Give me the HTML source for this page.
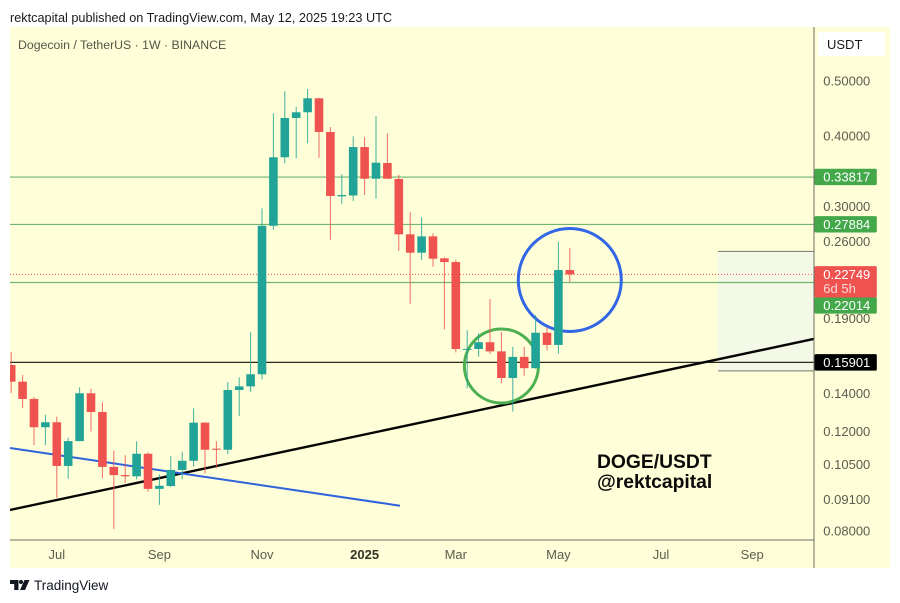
<!DOCTYPE html>
<html lang="en">
<head>
<meta charset="utf-8">
<title>DOGE/USDT chart</title>
<style>
html,body{margin:0;padding:0;background:#fff;width:900px;height:603px;overflow:hidden}
svg{display:block;font-family:"Liberation Sans",sans-serif}
</style>
</head>
<body>
<svg id="chart" xmlns="http://www.w3.org/2000/svg" width="900" height="603" viewBox="0 0 900 603">
  <defs><clipPath id="pane"><rect x="10" y="27" width="804" height="513"/></clipPath></defs>
  <text x="10" y="22" font-size="12.7" fill="#1a1a1a">rektcapital published on TradingView.com, May 12, 2025 19:23 UTC</text>
  <rect x="10" y="27" width="880" height="541" fill="#fefed8"/>
  <text x="18" y="49" font-size="12.3" fill="#555548">Dogecoin / TetherUS · 1W · BINANCE</text>
  <g id="under" clip-path="url(#pane)"></g>
  <g id="candles" clip-path="url(#pane)"></g>
  <text x="597" y="468" font-size="19.3" font-weight="700" fill="#0a0a0a">DOGE/USDT</text>
  <text x="597" y="488" font-size="19.3" font-weight="700" fill="#0a0a0a">@rektcapital</text>
  <line x1="10" y1="540" x2="814" y2="540" stroke="#6e6e60" stroke-width="1"/>
  <line x1="814" y1="27" x2="814" y2="568" stroke="#6e6e60" stroke-width="1"/>
  <g id="yaxis"></g>
  <g id="xaxis"></g>
  <g id="tags"></g>
  <rect x="818" y="32" width="67" height="24" rx="2" fill="#ffffff"/>
  <text x="827" y="49" font-size="13" fill="#1a1a1a">USDT</text>
  <g fill="#131722">
    <path d="M10 580H18.5V590H14.2V584H10Z"/>
    <circle cx="21" cy="582" r="2"/>
    <path d="M24.5 580H29.5L25 590H20Z"/>
  </g>
  <text x="34" y="590" font-size="13.5" fill="#131722">TradingView</text>
</svg>
<script>
// Weekly candles, values in USDT
const opens  = [.1573,.1470,.1370,.1221,.1246,.1043,.1154,.1402,.1299,.1039,.1005,.1000,.1096,.0950,.0961,.1026,.1065,.1244,.1119,.1114,.1421,.1442,.1515,.2773,.3665,.4301,.4402,.4660,.4063,.3126,.3137,.3821,.3359,.3581,.3355,.2678,.2485,.2656,.2429,.2392,.1677,.1679,.1726,.1663,.1492,.1626,.1553,.1794,.1707,.2316];
const highs  = [.1658,.1510,.1381,.1285,.1275,.1170,.1437,.1429,.1351,.1110,.1089,.1153,.1103,.1008,.1086,.1105,.1319,.1246,.1153,.1468,.1496,.1797,.2977,.4383,.4795,.4497,.4840,.4668,.4146,.3419,.3991,.3980,.4335,.4041,.3414,.2929,.2870,.2689,.2439,.2412,.1812,.1790,.2058,.1799,.1694,.1694,.1928,.1834,.2599,.2533];
const lows   = [.1404,.1321,.1135,.1135,.0916,.0990,.1153,.1200,.0992,.0807,.0974,.0988,.0939,.0890,.0958,.0988,.1040,.1012,.1033,.1094,.1278,.1411,.1484,.2729,.3576,.3650,.3879,.3659,.2620,.3034,.3067,.3143,.3096,.3359,.2503,.2019,.2412,.2347,.1819,.1656,.1431,.1628,.1645,.1460,.1301,.1506,.1550,.1670,.1647,.2203];
const closes = [.1470,.1370,.1221,.1246,.1043,.1154,.1402,.1299,.1039,.1005,.1000,.1096,.0950,.0962,.1026,.1065,.1244,.1114,.1114,.1421,.1442,.1515,.2773,.3665,.4301,.4402,.4660,.4063,.3130,.3143,.3821,.3359,.3585,.3359,.2678,.2485,.2656,.2425,.2392,.1679,.1680,.1726,.1663,.1492,.1626,.1553,.1794,.1707,.2316,.2275];
const priceTicks = [0.5,0.4,0.3,0.26,0.19,0.14,0.12,0.105,0.091,0.08];
const timeLabels = ["Jul","Sep","Nov","2025","Mar","May","Jul","Sep"];
const timeLabelBars = [4,13,22,31,39,48,57,65];
const supportLevels = [0.33817,0.27884,0.22014];
const blackLevel = 0.15901;
const lastPrice = 0.22749;
const countdown = "6d 5h";
const blackTrendBars = [-0.105,70.4];
const blackTrendPrices = [0.0872,0.1749];
const blueTrendBars = [-0.105,34.1];
const blueTrendPrices = [0.1122,0.0887];
const rangeBarStart = 62;
const rangePrices = [0.2498,0.1536];
const blueCircleCentre = [49,0.2224];
const greenCircleCentre = [43,0.1567];

const NS = "http://www.w3.org/2000/svg";
const UP = "#22a398", DOWN = "#ef5350";
const xBar = i => 11.2 + 11.4 * i;
const yPrice = p => 81 + 245.6 * Math.log(0.5 / p);
function mk(parent, tag, attrs, text) {
  const el = document.createElementNS(NS, tag);
  for (const k in attrs) el.setAttribute(k, attrs[k]);
  if (text !== undefined) el.textContent = text;
  parent.appendChild(el);
  return el;
}
const under = document.getElementById("under");
const candles = document.getElementById("candles");
const yaxis = document.getElementById("yaxis");
const xaxis = document.getElementById("xaxis");
const tags = document.getElementById("tags");

// horizontal levels
supportLevels.forEach(p => {
  const el = mk(under, "line", {x1:10, x2:814, y1:yPrice(p), y2:yPrice(p), stroke:"#6fb76f", "stroke-width":1.2});
  
  
});
const lastLine = mk(under, "line", {x1:10, x2:814, y1:yPrice(lastPrice), y2:yPrice(lastPrice), stroke:"#ef5350", "stroke-width":1, "stroke-dasharray":"1 2"});


const blackLine = mk(under, "line", {x1:10, x2:814, y1:yPrice(blackLevel), y2:yPrice(blackLevel), stroke:"#2a2a20", "stroke-width":1.3});



// projected range box
const rx = xBar(rangeBarStart), ry0 = yPrice(rangePrices[0]), ry1 = yPrice(rangePrices[1]);
const rangeBox = mk(under, "rect", {x:rx, y:ry0, width:814-rx, height:ry1-ry0, fill:"#f3f9e6"});


rangePrices.forEach(p => {
  const el = mk(under, "line", {x1:rx, x2:814, y1:yPrice(p), y2:yPrice(p), stroke:"#77776c", "stroke-width":1});
  
  
});
// the level lines run across the box
[supportLevels[2], lastPrice].forEach((p, i) => {
  const el = mk(under, "line", {x1:rx, x2:814, y1:yPrice(p), y2:yPrice(p), stroke: i ? "#ef5350" : "#6fb76f", "stroke-width": i ? 1 : 1.2, "stroke-dasharray": i ? "1 2" : "none"});
  
  
});
const blackOverBox = mk(under, "line", {x1:rx, x2:814, y1:yPrice(blackLevel), y2:yPrice(blackLevel), stroke:"#2a2a20", "stroke-width":1.3});



// trendlines
const blackTrend = mk(under, "line", {x1:xBar(blackTrendBars[0]), y1:yPrice(blackTrendPrices[0]), x2:xBar(blackTrendBars[1]), y2:yPrice(blackTrendPrices[1]), stroke:"#050505", "stroke-width":2.4});


const blueTrend = mk(under, "line", {x1:xBar(blueTrendBars[0]), y1:yPrice(blueTrendPrices[0]), x2:xBar(blueTrendBars[1]), y2:yPrice(blueTrendPrices[1]), stroke:"#2f62dc", "stroke-width":2});



// circles
const blueCircle = mk(under, "circle", {cx:xBar(blueCircleCentre[0]), cy:yPrice(blueCircleCentre[1]), r:51.5, fill:"none", stroke:"#3366e6", "stroke-width":3});


const greenCircle = mk(under, "circle", {cx:xBar(greenCircleCentre[0]), cy:yPrice(greenCircleCentre[1]), r:37, fill:"none", stroke:"#4caf50", "stroke-width":3});



// candles
opens.forEach((o, i) => {
  const c = closes[i], col = c >= o ? UP : DOWN, x = xBar(i);
  const wick = mk(candles, "line", {x1:x, x2:x, y1:yPrice(highs[i]), y2:yPrice(lows[i]), stroke:col, "stroke-width":1, "stroke-opacity":0.85});
  
  
  const top = yPrice(Math.max(o, c)), bot = yPrice(Math.min(o, c));
  const body = mk(candles, "rect", {x:x-4.3, y:top, width:8.6, height:Math.max(bot-top, 1), fill:col});
  
  
});

// price axis
priceTicks.forEach(p => {
  const el = mk(yaxis, "text", {x:823.3, y:yPrice(p)+4.6, "font-size":13, fill:"#5c5c50"}, p.toFixed(5));
  
  
});

// time axis
timeLabels.forEach((t, i) => {
  const bold = t === "2025";
  const el = mk(xaxis, "text", {x:xBar(timeLabelBars[i]), y:559, "font-size":13, "text-anchor":"middle", fill: bold ? "#333329" : "#5c5c50", "font-weight": bold ? 700 : 400}, t);
  
  
});

// price tags: shift moves a label clear of a neighbouring tag
function tag(price, fill, h, extra, shift) {
  const y = yPrice(price) + (shift || 0);
  const box = mk(tags, "rect", {x:814.5, y:y - 8.3, width:62.3, height:h, rx:1.5, fill:fill});
  
  
  const label = mk(tags, "text", {x:823.3, y:y+4.6, "font-size":13, fill:"#ffffff"}, price.toFixed(5));
  
  
  if (extra) {
    const sub = mk(tags, "text", {x:823.3, y:y+18.6, "font-size":13, fill:"#fbd9d8"}, extra);
    
    
  }
}
tag(supportLevels[0], "#43a84a", 16.4);
tag(supportLevels[1], "#43a84a", 16.4);
tag(supportLevels[2], "#43a84a", 16.4, null, 23);
tag(lastPrice, "#ef5350", 31.4, countdown);
tag(blackLevel, "#000000", 16.6);
</script>
</body>
</html>
